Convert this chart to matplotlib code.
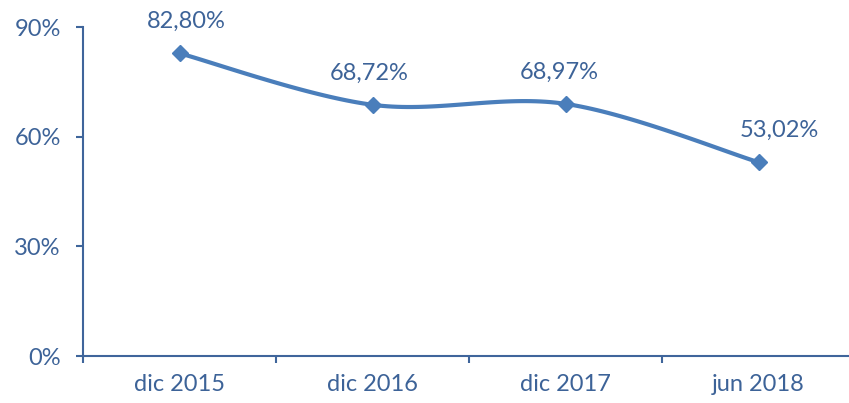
import numpy as np
import matplotlib
matplotlib.use("Agg")
import matplotlib.pyplot as plt

# data
categories = ["dic 2015", "dic 2016", "dic 2017", "jun 2018"]
values = [0.8280, 0.6872, 0.6897, 0.5302]
labels = ["82,80%", "68,72%", "68,97%", "53,02%"]

line_color = "#4A7EBB"
text_color = "#3D6398"
axis_color = "#3F659B"

plt.rcParams["font.family"] = ["Lato", "DejaVu Sans"]


def smooth(xs, ys, n=40):
    # Excel-like smoothed line: cubic Bezier with catmull-rom control points
    pts = np.column_stack([xs, ys]).astype(float)
    out = [pts[0]]
    for i in range(len(pts) - 1):
        p0 = pts[i - 1] if i > 0 else pts[i]
        p1 = pts[i]
        p2 = pts[i + 1]
        p3 = pts[i + 2] if i + 2 < len(pts) else pts[i + 1]
        c1 = p1 + (p2 - p0) / 6
        c2 = p2 - (p3 - p1) / 6
        t = np.linspace(0, 1, n)[1:, None]
        seg = ((1 - t) ** 3) * p1 + 3 * ((1 - t) ** 2) * t * c1 + 3 * (1 - t) * t ** 2 * c2 + t ** 3 * p2
        out.extend(seg)
    out = np.array(out)
    return out[:, 0], out[:, 1]


fig = plt.figure(figsize=(8.49, 4.03), dpi=100)
ax = fig.add_axes([0.0978, 0.1166, 0.9093, 0.8164])

x = np.arange(len(categories))
# scale y so x/y spacing in display is reasonable for smoothing
sx, sy = smooth(x * 193.0, np.array(values) / 0.9 * 329.0)
ax.plot(sx / 193.0, sy / 329.0 * 0.9, color=line_color, lw=3, solid_capstyle="round", zorder=2)
ax.plot(x, values, linestyle="none", marker="D", markersize=8, color=line_color, zorder=3)

label_dx = [7, -3, -6, 21]
for xi, v, lab, dx in zip(x, values, labels, label_dx):
    ax.annotate(lab, (xi, v), xytext=(dx, 21), textcoords="offset pixels",
                ha="center", va="bottom", fontsize=17, color=text_color)

ax.set_xlim(-0.5, len(categories) - 0.5)
ax.set_ylim(0, 0.9)
ax.set_yticks([0, 0.3, 0.6, 0.9])
ax.set_yticklabels(["0%", "30%", "60%", "90%"])
ax.set_xticks(x)
ax.set_xticklabels(categories)
ax.set_xticks(np.arange(-0.5, len(categories), 1.0), minor=True)

for s in ["top", "right"]:
    ax.spines[s].set_visible(False)
for s in ["left", "bottom"]:
    ax.spines[s].set_color(axis_color)
    ax.spines[s].set_linewidth(1.5)

ax.tick_params(axis="y", direction="out", length=5, width=1.5, color=axis_color,
               labelcolor=text_color, labelsize=17, pad=11)
ax.tick_params(axis="x", which="major", length=0, labelcolor=text_color, labelsize=17, pad=13)
ax.tick_params(axis="x", which="minor", direction="out", length=5, width=1.5, color=axis_color)

fig.savefig("out.png", dpi=100)
